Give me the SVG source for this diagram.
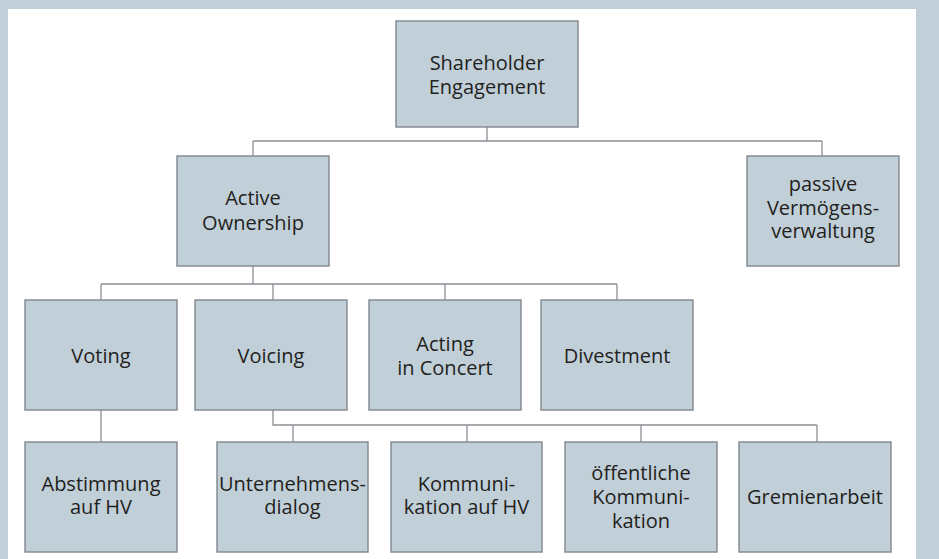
<svg xmlns="http://www.w3.org/2000/svg" width="939" height="559" viewBox="0 0 939 559">
  <style>
    .box { fill: #c1cfd9; stroke: #80878d; stroke-width: 1.4; }
    .lbl { font-family: "Open Sans", "Noto Sans", "Liberation Sans", sans-serif; font-size: 20px; fill: #231f20; text-anchor: middle; }
    .conn { fill: none; stroke: #8a9096; stroke-width: 1.3; }
  </style>
  <!-- frame -->
  <rect x="0" y="0" width="939" height="559" fill="#c1cfd9"/>
  <rect x="8" y="9" width="908" height="550" fill="#ffffff"/>

  <!-- connectors -->
  <g id="connectors" class="conn">
    <path d="M487 127 V141 M253 141 H822 M253 141 V156 M822 141 V156"/>
    <path d="M253 266 V284 M101 284 H617 M101 284 V300 M273 284 V300 M445 284 V300 M617 284 V300"/>
    <path d="M101 410 V442"/>
    <path d="M273 410 V425 H817 M293 425 V442 M467 425 V442 M641 425 V442 M817 425 V442"/>
  </g>

  <g id="shareholder-engagement">
    <rect class="box" x="396" y="21" width="182" height="106"/>
    <text class="lbl" x="487" y="69.5">Shareholder</text>
    <text class="lbl" x="487" y="93.5">Engagement</text>
  </g>

  <g id="active-ownership">
    <rect class="box" x="177" y="156" width="152" height="110"/>
    <text class="lbl" x="253" y="205">Active</text>
    <text class="lbl" x="253" y="229.5">Ownership</text>
  </g>

  <g id="passive">
    <rect class="box" x="747" y="156" width="152" height="110"/>
    <text class="lbl" x="823" y="191">passive</text>
    <text class="lbl" x="823" y="214.5">Vermögens-</text>
    <text class="lbl" x="823" y="238">verwaltung</text>
  </g>

  <g id="voting">
    <rect class="box" x="25" y="300" width="152" height="110"/>
    <text class="lbl" x="101" y="362.5">Voting</text>
  </g>

  <g id="voicing">
    <rect class="box" x="195" y="300" width="152" height="110"/>
    <text class="lbl" x="271" y="362.5">Voicing</text>
  </g>

  <g id="acting-in-concert">
    <rect class="box" x="369" y="300" width="152" height="110"/>
    <text class="lbl" x="445" y="350.5">Acting</text>
    <text class="lbl" x="445" y="374.5">in Concert</text>
  </g>

  <g id="divestment">
    <rect class="box" x="541" y="300" width="152" height="110"/>
    <text class="lbl" x="617" y="362.5">Divestment</text>
  </g>

  <g id="abstimmung">
    <rect class="box" x="25" y="442" width="152" height="110"/>
    <text class="lbl" x="101" y="490.5">Abstimmung</text>
    <text class="lbl" x="101" y="514">auf HV</text>
  </g>

  <g id="unternehmensdialog">
    <rect class="box" x="217" y="442" width="151" height="110"/>
    <text class="lbl" x="292.5" y="490.5">Unternehmens-</text>
    <text class="lbl" x="292.5" y="514">dialog</text>
  </g>

  <g id="kommunikation-hv">
    <rect class="box" x="391" y="442" width="151" height="110"/>
    <text class="lbl" x="466.5" y="490.5">Kommuni-</text>
    <text class="lbl" x="466.5" y="514">kation auf HV</text>
  </g>

  <g id="oeffentliche-kommunikation">
    <rect class="box" x="565" y="442" width="152" height="110"/>
    <text class="lbl" x="641" y="480">öffentliche</text>
    <text class="lbl" x="641" y="504">Kommuni-</text>
    <text class="lbl" x="641" y="528">kation</text>
  </g>

  <g id="gremienarbeit">
    <rect class="box" x="739" y="442" width="152" height="110"/>
    <text class="lbl" x="815" y="504">Gremienarbeit</text>
  </g>
</svg>
